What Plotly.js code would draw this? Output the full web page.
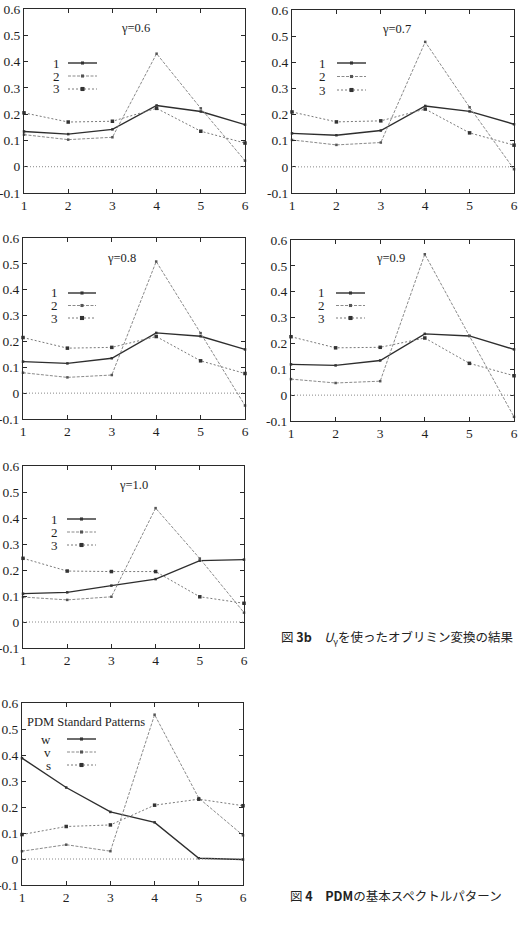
<!DOCTYPE html>
<html>
<head>
<meta charset="utf-8">
<script src="https://cdn.plot.ly/plotly-3.0.1.min.js"></script>
<style>
  html, body { margin: 0; padding: 0; background: #fff; }
  #chart { width: 521px; height: 926px; }
</style>
</head>
<body>
<div id="chart"></div>
<script>
// Component loadings over the six spectral positions
const positions = [1, 2, 3, 4, 5, 6];
const yTickVals = [-0.1, 0, 0.1, 0.2, 0.3, 0.4, 0.5, 0.6];
const yTickText = ['-0.1', '0', '0.1', '0.2', '0.3', '0.4', '0.5', '0.6'];
const xTickText = ['1', '2', '3', '4', '5', '6'];

const panelTitles = ['γ=0.6', 'γ=0.7', 'γ=0.8', 'γ=0.9', 'γ=1.0', 'PDM Standard Patterns'];
const seriesNames = ['1', '2', '3'];
const patternNames = ['w', 'v', 's'];

// γ = 0.6
const g06_c1 = [0.134, 0.124, 0.142, 0.233, 0.210, 0.160];
const g06_c2 = [0.122, 0.103, 0.112, 0.430, 0.222, 0.023];
const g06_c3 = [0.205, 0.170, 0.173, 0.222, 0.135, 0.090];
// γ = 0.7
const g07_c1 = [0.128, 0.121, 0.139, 0.233, 0.212, 0.163];
const g07_c2 = [0.103, 0.084, 0.093, 0.478, 0.228, -0.009];
const g07_c3 = [0.210, 0.172, 0.176, 0.221, 0.130, 0.083];
// γ = 0.8
const g08_c1 = [0.122, 0.115, 0.135, 0.233, 0.220, 0.169];
const g08_c2 = [0.079, 0.061, 0.070, 0.509, 0.232, -0.048];
const g08_c3 = [0.215, 0.174, 0.177, 0.219, 0.125, 0.076];
// γ = 0.9
const g09_c1 = [0.119, 0.115, 0.134, 0.237, 0.229, 0.177];
const g09_c2 = [0.062, 0.047, 0.054, 0.545, 0.229, -0.084];
const g09_c3 = [0.226, 0.183, 0.185, 0.221, 0.123, 0.075];
// γ = 1.0
const g10_c1 = [0.109, 0.114, 0.140, 0.165, 0.236, 0.240];
const g10_c2 = [0.096, 0.085, 0.097, 0.438, 0.244, 0.036];
const g10_c3 = [0.245, 0.196, 0.194, 0.194, 0.097, 0.072];
// PDM standard patterns
const pdm_w = [0.388, 0.275, 0.181, 0.141, 0.003, -0.002];
const pdm_v = [0.030, 0.055, 0.030, 0.555, 0.234, 0.091];
const pdm_s = [0.094, 0.125, 0.131, 0.207, 0.230, 0.205];

const panelData = [
  [g06_c1, g06_c2, g06_c3],
  [g07_c1, g07_c2, g07_c3],
  [g08_c1, g08_c2, g08_c3],
  [g09_c1, g09_c2, g09_c3],
  [g10_c1, g10_c2, g10_c3],
  [pdm_w, pdm_v, pdm_s]
];

// page geometry (pixels)
const W = 521, H = 926;
const px = x => x / W;
const py = y => 1 - y / H;

const SERIF = 'Liberation Serif';
const INK = '#1e1e1e';

const frames = [
  {l: 24,  r: 245, t: 9,   b: 193},
  {l: 292, r: 514, t: 10,  b: 193},
  {l: 23,  r: 245, t: 238, b: 419},
  {l: 291, r: 514, t: 240, b: 421},
  {l: 23,  r: 244, t: 466, b: 648},
  {l: 22,  r: 243, t: 703, b: 885}
];
const titlePos = [
  [135, 28], [396, 29], [121, 258], [390, 258], [133, 485], [86, 722]
];
// key: label right edge, sample line start/end, first row y, row step
const keyPos = [
  {lab: 61,  a: 68,  b: 97,  y: 63,  d: 13},
  {lab: 327, a: 337, b: 366, y: 63,  d: 13.5},
  {lab: 59,  a: 68,  b: 96,  y: 293, d: 12.5},
  {lab: 326, a: 336, b: 365, y: 293, d: 12.5},
  {lab: 59,  a: 67,  b: 96,  y: 519, d: 13},
  {lab: 52,  a: 67,  b: 96,  y: 739, d: 13}
];

const styles = [
  {color: '#2e2e2e', width: 1.4, dash: 'solid',     mcolor: '#333', msize: 2.5},
  {color: '#8a8a8a', width: 1.0, dash: '3px,1.5px', mcolor: '#555', msize: 2.5},
  {color: '#7a7a7a', width: 1.0, dash: '2px,2px',   mcolor: '#333', msize: 3.5}
];

const traces = [];
const shapes = [];
const annotations = [];
const layout = {
  width: W, height: H,
  margin: {l: 0, r: 0, t: 0, b: 0},
  paper_bgcolor: '#fff', plot_bgcolor: '#fff',
  showlegend: false,
  font: {family: SERIF, size: 13, color: INK}
};

const axisCommon = {
  showgrid: false, zeroline: false, showline: true, mirror: 'ticks',
  linecolor: '#2a2a2a', linewidth: 1, ticks: 'inside', ticklen: 4, tickcolor: '#2a2a2a',
  tickfont: {family: SERIF, size: 13.5, color: INK},
  fixedrange: true
};

frames.forEach((f, i) => {
  const n = i === 0 ? '' : String(i + 1);
  const xa = 'x' + n, ya = 'y' + n;
  layout['xaxis' + n] = Object.assign({}, axisCommon, {
    domain: [px(f.l), px(f.r)], anchor: ya, range: [1, 6],
    tickvals: positions, ticktext: xTickText
  });
  layout['yaxis' + n] = Object.assign({}, axisCommon, {
    domain: [py(f.b), py(f.t)], anchor: xa, range: [-0.1, 0.6],
    tickvals: yTickVals, ticktext: yTickText
  });

  // dotted zero axis
  shapes.push({type: 'line', xref: xa, yref: ya, x0: 1, x1: 6, y0: 0, y1: 0,
    line: {color: '#888', width: 1, dash: '1px,2px'}});

  const names = i === 5 ? patternNames : seriesNames;
  panelData[i].forEach((vals, k) => {
    const s = styles[k];
    traces.push({
      type: 'scatter', mode: 'lines+markers', x: positions, y: vals,
      xaxis: xa, yaxis: ya, name: names[k], cliponaxis: false,
      line: {color: s.color, width: s.width, dash: s.dash},
      marker: {color: s.mcolor, size: s.msize, symbol: 'square'}
    });

    // key sample
    const kp = keyPos[i];
    const yy = kp.y + k * kp.d;
    shapes.push({type: 'line', xref: 'paper', yref: 'paper',
      x0: px(kp.a), x1: px(kp.b), y0: py(yy), y1: py(yy),
      line: {color: s.color, width: s.width, dash: s.dash}});
    const mc = (kp.a + kp.b) / 2, h = s.msize / 2 + 0.3;
    shapes.push({type: 'rect', xref: 'paper', yref: 'paper',
      x0: px(mc - h), x1: px(mc + h), y0: py(yy + h), y1: py(yy - h),
      line: {width: 0}, fillcolor: s.mcolor});
    annotations.push({xref: 'paper', yref: 'paper', x: px(kp.lab), y: py(yy),
      xanchor: 'right', yanchor: 'middle', showarrow: false, text: names[k],
      borderpad: 0, font: {family: SERIF, size: 13, color: INK}});
  });

  annotations.push({xref: 'paper', yref: 'paper',
    x: px(titlePos[i][0]), y: py(titlePos[i][1]), xanchor: 'center', yanchor: 'middle',
    showarrow: false, text: panelTitles[i],
    font: {family: SERIF, size: 12.5, color: INK}});
});

// figure captions
const CJK = 'Noto Sans CJK JP';
annotations.push({xref: 'paper', yref: 'paper', x: px(397), y: py(637),
  xanchor: 'center', yanchor: 'middle', showarrow: false,
  text: '図 <b>3b</b>　<i>U</i><sub>γ</sub>を使ったオブリミン変換の結果',
  font: {family: CJK, size: 12.5, color: '#222'}});
annotations.push({xref: 'paper', yref: 'paper', x: px(396), y: py(895),
  xanchor: 'center', yanchor: 'middle', showarrow: false,
  text: '図 <b>4</b>　<b>PDM</b>の基本スペクトルパターン',
  font: {family: CJK, size: 12.5, color: '#222'}});

layout.shapes = shapes;
layout.annotations = annotations;

Plotly.newPlot('chart', traces, layout, {staticPlot: true, displayModeBar: false});
</script>
</body>
</html>
